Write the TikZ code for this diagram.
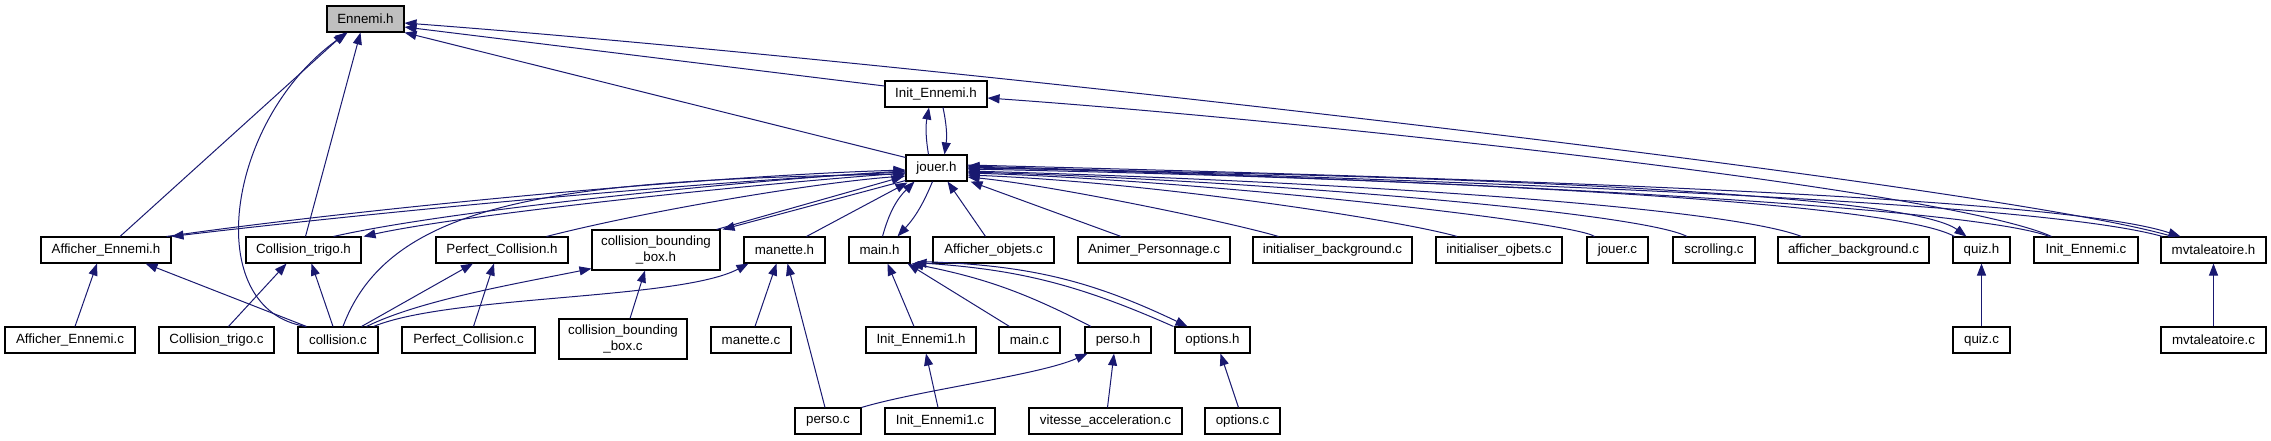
\documentclass[tikz,border=0pt]{standalone}
\usepackage{fontspec}
\setmainfont{Liberation Sans}
\usetikzlibrary{arrows.meta,calc}
\definecolor{edgeblue}{RGB}{25,25,112}

\begin{document}
\begin{tikzpicture}[x=0.75pt, y=-0.75pt,
    file/.style={draw, line width=0.8pt, fill=white, inner sep=0pt, minimum height=19.5pt,
                 font=\fontsize{10}{11.5}\selectfont, align=center},
    incl/.style={draw=edgeblue, line width=0.75pt, -{Triangle[length=9pt,width=6.75pt]}}]
    \useasboundingbox (0,0) rectangle (2271,440);
    % files
    \node[file, fill=black!25, minimum width=57.75pt] (ennemi) at (365.5,19) {Ennemi.h};
    \foreach \nm/\x/\y/\w/\lab in {
        initEh/936/94/102/Init\_Ennemi.h,
        jouerh/936.5/168/61/jouer.h,
        affEh/106/250/130/Afficher\_Ennemi.h,
        ctrigh/303.5/250/115/Collision\_trigo.h,
        pcolh/502/250/132/Perfect\_Collision.h,
        maneth/784.5/250/81/manette.h,
        mainh/879.5/250/61/main.h,
        affobjc/993.5/250/121/Afficher\_objets.c,
        animc/1154/250/152/Animer\_Personnage.c,
        initbgc/1332.5/250/159/initialiser\_background.c,
        initobjc/1499/250/126/initialiser\_ojbets.c,
        jouerc/1617.5/250/61/jouer.c,
        scrollc/1714/250/82/scrolling.c,
        affbgc/1853.5/250/151/afficher\_background.c,
        quizh/1981.5/250/57/quiz.h,
        initEc/2086/250/104/Init\_Ennemi.c,
        mvth/2213.5/250/105/mvtaleatoire.h,
        affEc/70/340/130/Afficher\_Ennemi.c,
        ctrigc/216.5/340/115/Collision\_trigo.c,
        collc/338/340/80/collision.c,
        pcolc/468.5/340/133/Perfect\_Collision.c,
        manetc/751/340/80/manette.c,
        initE1h/921/340/110/Init\_Ennemi1.h,
        mainc/1029.5/340/61/main.c,
        persoh/1118/340/66/perso.h,
        optionsh/1212.5/340/75/options.h,
        quizc/1981.5/340/57/quiz.c,
        mvtc/2213.5/340/105/mvtaleatoire.c,
        persoc/828/421/66/perso.c,
        initE1c/940/421/110/Init\_Ennemi1.c,
        vitc/1105.5/421/153/vitesse\_acceleration.c,
        optc/1242.5/421/75/options.c}
        \node[file, minimum width=\w*0.75pt] (\nm) at (\x,\y) {\lab};
    \node[file, minimum width=96pt, minimum height=30pt] (cbbh) at (656,250) {collision\_bounding\\\_box.h};
    \node[file, minimum width=96pt, minimum height=30pt] (cbbc) at (623,339) {collision\_bounding\\\_box.c};

    % into Ennemi.h
    \draw[incl] ($(affEh.north)+(14,0)$) -- ($(ennemi.south)+(-20,0)$);
    \draw[incl] ($(collc.north)+(-32,0)$) .. controls (200,310) and (225,120) .. ($(ennemi.south)+(-18,0)$);
    \draw[incl] ($(ctrigh.north)+(2,0)$) -- ($(ennemi.south)+(-5,0)$);
    \draw[incl] ($(jouerh.north west)+(0,3)$) -- (ennemi.south east);
    \draw[incl] ($(initEh.west)+(0,-8)$) -- ($(ennemi.east)+(0,8)$);
    \draw[incl] ($(mvth.north west)+(12,0)$) .. controls (2000,185) and (900,60) .. ($(ennemi.east)+(0,4)$);

    % Init_Ennemi.h <-> jouer.h
    \draw[incl] ($(initEc.north west)+(18,0)$) .. controls (1950,190) and (1300,120) .. ($(initEh.east)+(0,4)$);
    \draw[incl] ($(jouerh.north)+(-8,0)$) to[bend left=10] ($(initEh.south)+(-7,0)$);
    \draw[incl] ($(initEh.south)+(7,0)$) to[bend left=10] ($(jouerh.north)+(8,0)$);

    % into jouer.h from the left
    \draw[incl] ($(affEh.north east)+(-5,0)$) .. controls (350,210) and (700,176) .. ($(jouerh.west)+(0,2)$);
    \draw[incl] ($(jouerh.west)+(0,4)$) .. controls (700,181) and (360,214) .. (affEh.north east);
    \draw[incl] ($(ctrigh.north east)+(-28,0)$) .. controls (450,210) and (750,180) .. ($(jouerh.west)+(0,3)$);
    \draw[incl] ($(jouerh.west)+(0,5)$) .. controls (750,184) and (460,215) .. ($(ctrigh.north east)+(2,0)$);
    \draw[incl] ($(collc.north)+(5,0)$) .. controls (390,200) and (560,180) .. ($(jouerh.west)+(0,6)$);
    \draw[incl] ($(pcolh.north east)+(-22,0)$) .. controls (650,210) and (820,182) .. ($(jouerh.west)+(0,8)$);
    \draw[incl] ($(cbbh.north east)+(-4,0)$) -- ($(jouerh.south west)+(-2,-5)$);
    \draw[incl] ($(jouerh.south west)+(0,-1)$) -- ($(cbbh.north east)+(2,0)$);
    \draw[incl] ($(maneth.north)+(22,0)$) -- ($(jouerh.south west)+(2,1)$);
    \draw[incl] ($(mainh.north)+(3,0)$) to[bend left=15] ($(jouerh.south)+(-22,0)$);
    \draw[incl] ($(jouerh.south)+(-4,0)$) to[bend left=10] ($(mainh.north)+(18,0)$);
    \draw[incl] ($(affobjc.north)+(-8,0)$) -- ($(jouerh.south east)+(-20,0)$);
    \draw[incl] ($(animc.north)+(-33,0)$) -- ($(jouerh.south east)+(3,0)$);

    % into jouer.h from the right
    \draw[incl] ($(initbgc.north)+(-54,0)$) .. controls (1230,222) and (1050,185) .. ($(jouerh.east)+(0,9)$);
    \draw[incl] ($(initobjc.north)+(-42,0)$) .. controls (1400,220) and (1150,182) .. ($(jouerh.east)+(0,7)$);
    \draw[incl] ($(jouerc.north)+(-23,0)$) .. controls (1575,222) and (1200,180) .. ($(jouerh.east)+(0,5)$);
    \draw[incl] ($(scrollc.north)+(-27,0)$) .. controls (1640,212) and (1250,180) .. ($(jouerh.east)+(0,4)$);
    \draw[incl] ($(affbgc.north)+(-52,0)$) .. controls (1720,205) and (1300,180) .. ($(jouerh.east)+(0,3)$);
    \draw[incl] ($(quizh.north west)+(2,0)$) .. controls (1900,205) and (1500,180) .. ($(jouerh.east)+(0,1)$);
    \draw[incl] (jouerh.east) .. controls (1500,176) and (1910,195) .. ($(quizh.north)+(-15,0)$);
    \draw[incl] ($(initEc.north west)+(16,0)$) .. controls (1980,210) and (1550,183) .. ($(jouerh.east)+(0,-1)$);
    \draw[incl] ($(mvth.north west)+(2,0)$) .. controls (2050,205) and (1600,185) .. ($(jouerh.east)+(0,-2)$);
    \draw[incl] ($(jouerh.east)+(0,-3)$) .. controls (1600,181) and (2070,200) .. ($(mvth.north west)+(20,0)$);

    % lower levels
    \draw[incl] ($(affEc.north)+(5,0)$) -- ($(affEh.south)+(-9,0)$);
    \draw[incl] ($(collc.north west)+(9,0)$) -- ($(affEh.south east)+(-26,0)$);
    \draw[incl] ($(ctrigc.north)+(12,0)$) -- ($(ctrigh.south)+(-17,0)$);
    \draw[incl] ($(collc.north)+(-5,0)$) -- ($(ctrigh.south)+(8,0)$);
    \draw[incl] ($(collc.north east)+(-17,0)$) -- ($(pcolh.south)+(-29,0)$);
    \draw[incl] ($(pcolc.north)+(5,0)$) -- ($(pcolh.south)+(-8,0)$);
    \draw[incl] ($(collc.north east)+(-12,0)$) .. controls (420,300) and (520,283) .. ($(cbbh.south west)+(0,-2)$);
    \draw[incl] ($(cbbc.north)+(7,0)$) -- ($(cbbh.south)+(-11,0)$);
    \draw[incl] ($(collc.north east)+(-5,0)$) .. controls (450,295) and (680,300) .. ($(maneth.south west)+(5,0)$);
    \draw[incl] ($(manetc.north)+(4,0)$) -- ($(maneth.south)+(-8,0)$);
    \draw[incl] ($(persoc.north)+(-3,0)$) -- ($(maneth.south)+(3,0)$);
    \draw[incl] ($(initE1h.north)+(-7,0)$) -- ($(mainh.south)+(8,0)$);
    \draw[incl] ($(mainc.north)+(-20,0)$) -- ($(mainh.south east)+(-3,0)$);
    \draw[incl] ($(persoh.north)+(-27,0)$) to[bend right=8] ($(mainh.south east)+(1,0)$);
    \draw[incl] ($(optionsh.north west)+(-1,0)$) to[bend right=10] ($(mainh.south east)+(4,-1)$);
    \draw[incl] ($(mainh.south east)+(7,-2)$) to[bend left=12] ($(optionsh.north)+(-25,0)$);
    \draw[incl] ($(initE1c.north)+(-2,0)$) -- ($(initE1h.south)+(5,0)$);
    \draw[incl] (persoc.north east) .. controls (920,390) and (1040,375) .. ($(persoh.south west)+(3,0)$);
    \draw[incl] ($(vitc.north)+(2,0)$) -- ($(persoh.south)+(-4,0)$);
    \draw[incl] ($(optc.north)+(-4,0)$) -- ($(optionsh.south)+(8,0)$);
    \draw[incl] (quizc) -- (quizh);
    \draw[incl] (mvtc) -- (mvth);
\end{tikzpicture}
\end{document}
